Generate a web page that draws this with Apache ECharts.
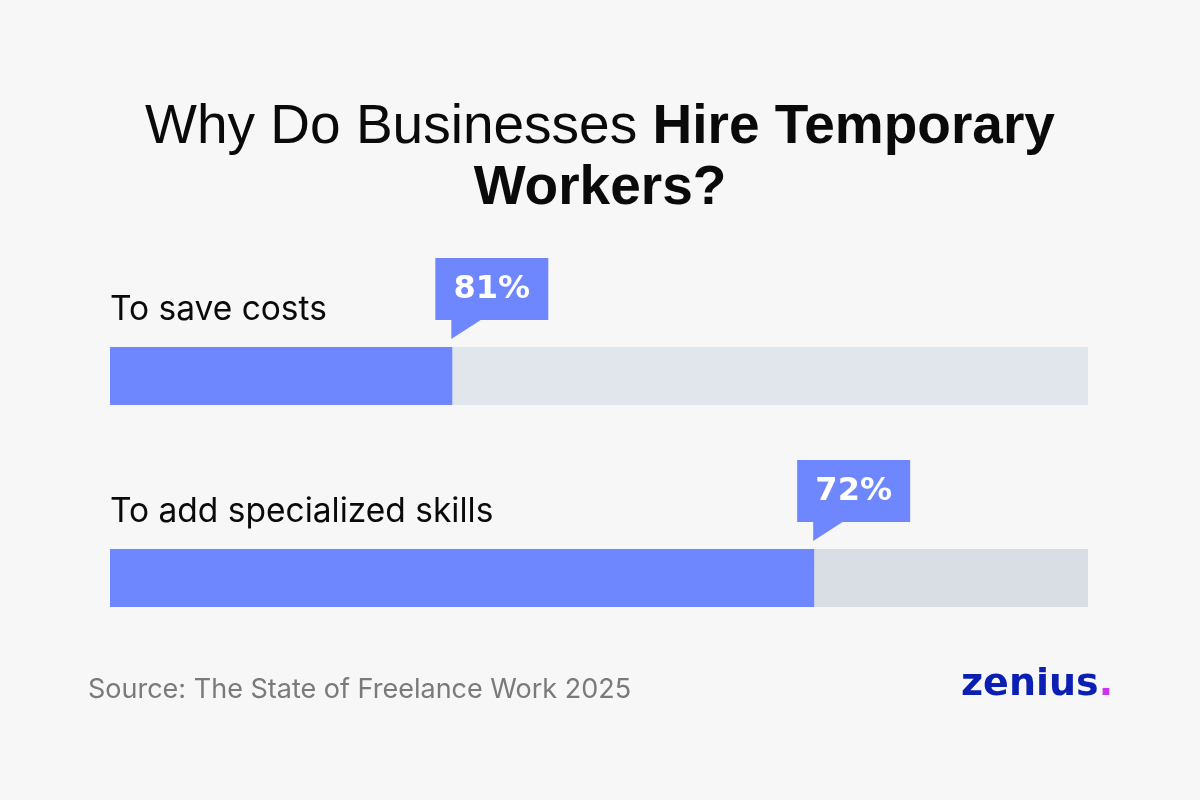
<!DOCTYPE html>
<html>
<head>
<meta charset="utf-8">
<script src="https://cdn.jsdelivr.net/npm/echarts@6/dist/echarts.min.js"></script>
<style>
  html, body { margin: 0; padding: 0; background: #f7f7f7; }
  #chart { width: 1200px; height: 800px; }
</style>
</head>
<body>
<div id="chart"></div>
<script>
// data
const categories = ["To save costs", "To add specialized skills"];
const fillShare = [35, 72];          // drawn length of the blue fill (% of track)
const calloutLabels = ["81%", "72%"]; // numbers printed in the callouts
const trackMax = 100;

const trackColors = ["#e1e6ed", "#d9dee5"];
const fillColor = "#6e87ff";

const chart = echarts.init(document.getElementById("chart"));

chart.setOption({
  backgroundColor: "#f7f7f7",
  animation: false,
  title: [
    {
      text: "{r|Why Do Businesses }{b|Hire Temporary}\n{b|Workers?}",
      left: "center",
      top: 92,
      textStyle: {
        rich: {
          r: { fontFamily: "Liberation Sans", fontSize: 55, fontWeight: "normal", color: "#0a0a0a", lineHeight: 61 },
          b: { fontFamily: "Liberation Sans", fontSize: 55, fontWeight: "bold", color: "#0a0a0a", lineHeight: 61 },
        },
      },
    },
    {
      text: "Source: The State of Freelance Work 2025",
      left: 83,
      top: 671,
      textStyle: { fontFamily: "Inter", fontSize: 27, fontWeight: "normal", color: "#7a7a7a" },
    },
    {
      text: "{z|zenius}{d|.}",
      left: 956,
      top: 661,
      textStyle: {
        rich: {
          z: { fontFamily: "DejaVu Sans", fontSize: 38, fontWeight: "bold", color: "#0b1fb2" },
          d: { fontFamily: "DejaVu Sans", fontSize: 38, fontWeight: "bold", color: "#cc33ee" },
        },
      },
    },
  ],
  grid: { left: 110, right: 112, top: 275, bottom: 121 },
  xAxis: { type: "value", min: 0, max: trackMax, show: false },
  yAxis: { type: "category", data: categories, inverse: true, show: false },
  series: [
    {
      name: "track",
      type: "bar",
      barWidth: 58,
      silent: true,
      data: categories.map((c, i) => ({ value: trackMax, itemStyle: { color: trackColors[i] } })),
      z: 1,
    },
    {
      name: "fill",
      type: "bar",
      barWidth: 58,
      barGap: "-100%",
      itemStyle: { color: fillColor },
      data: fillShare,
      z: 2,
    },
    {
      name: "callout",
      type: "custom",
      z: 3,
      data: fillShare.map((v, i) => [v, i]),
      renderItem: function (params, api) {
        const i = params.dataIndex;
        const end = api.coord([api.value(0), api.value(1)]);
        const start = api.coord([0, api.value(1)]);
        const boxX = end[0] - 17;
        const boxY = end[1] - 118;
        const boxW = 113;
        const boxH = 62;
        return {
          type: "group",
          children: [
            {
              type: "rect",
              shape: { x: boxX, y: boxY, width: boxW, height: boxH },
              style: { fill: fillColor },
            },
            {
              type: "polygon",
              shape: {
                points: [
                  [end[0] - 1, boxY + boxH - 1],
                  [end[0] + 30, boxY + boxH - 1],
                  [end[0] - 1, end[1] - 37],
                ],
              },
              style: { fill: fillColor },
            },
            {
              type: "text",
              style: {
                x: boxX + boxW / 2,
                y: boxY + boxH / 2 + 1,
                text: calloutLabels[i],
                fill: "#ffffff",
                font: "bold 32px 'DejaVu Sans'",
                align: "center",
                verticalAlign: "middle",
              },
            },
            {
              type: "text",
              style: {
                x: start[0],
                y: end[1] - 66,
                text: categories[i],
                fill: "#0a0a0a",
                font: "normal 33.5px Inter",
                align: "left",
                verticalAlign: "middle",
              },
            },
          ],
        };
      },
    },
  ],
});
</script>
</body>
</html>
